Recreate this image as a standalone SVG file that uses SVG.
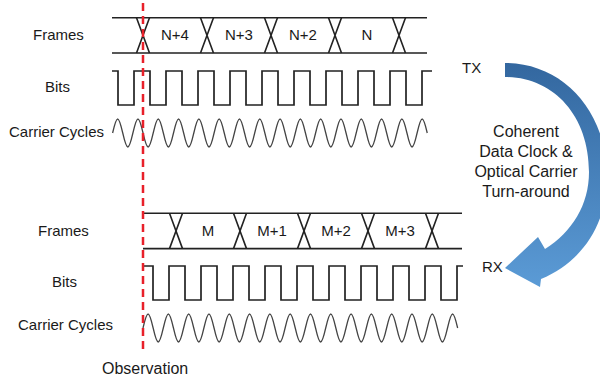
<svg xmlns="http://www.w3.org/2000/svg" xmlns:xlink="http://www.w3.org/1999/xlink" width="600" height="383" viewBox="0 0 600 383">
  <style>
    .lbl { font-family: "Liberation Sans", Arial, sans-serif; font-size: 15px; fill: #1a1a1a; }
    .big { font-size: 16px; }
    .mid { text-anchor: middle; }
    .rail { stroke: #222; stroke-width: 1.6; fill: none; }
    .bits { stroke: #222; stroke-width: 1.7; fill: none; stroke-linejoin: miter; }
    .wave { stroke: #444; stroke-width: 1.3; fill: none; }
    .obs { stroke: #e8202a; stroke-width: 2.5; stroke-dasharray: 8 5; fill: none; }
  </style>
  <defs>
    <path id="cross" class="rail" d="M-6.5,0 L6.5,35.3 M6.5,0 L-6.5,35.3"/>
    <path id="carrier" class="wave" d="M0,0 c4.31,-18.67 5.84,-18.67 10.15,0 s5.84,18.67 10.15,0 s5.84,-18.67 10.15,0 s5.84,18.67 10.15,0 s5.84,-18.67 10.15,0 s5.84,18.67 10.15,0 s5.84,-18.67 10.15,0 s5.84,18.67 10.15,0 s5.84,-18.67 10.15,0 s5.84,18.67 10.15,0 s5.84,-18.67 10.15,0 s5.84,18.67 10.15,0 s5.84,-18.67 10.15,0 s5.84,18.67 10.15,0 s5.84,-18.67 10.15,0 s5.84,18.67 10.15,0 s5.84,-18.67 10.15,0 s5.84,18.67 10.15,0 s5.84,-18.67 10.15,0 s5.84,18.67 10.15,0 s5.84,-18.67 10.15,0 s5.84,18.67 10.15,0 s5.84,-18.67 10.15,0 s5.84,18.67 10.15,0 s5.84,-18.67 10.15,0 s5.84,18.67 10.15,0 s5.84,-18.67 10.15,0 s5.84,18.67 10.15,0 s5.84,-18.67 10.15,0 s5.84,18.67 10.15,0 s5.84,-18.67 10.15,0"/>
    <linearGradient id="arrowGrad" gradientUnits="userSpaceOnUse" x1="0" y1="63" x2="0" y2="287">
      <stop offset="0" stop-color="#33679f"/>
      <stop offset="1" stop-color="#5b9bd6"/>
    </linearGradient>
  </defs>

  <!-- TX side -->
  <g id="tx-labels">
    <text class="lbl" x="33" y="40">Frames</text>
    <text class="lbl" x="45" y="92">Bits</text>
    <text class="lbl" x="9" y="137">Carrier Cycles</text>
  </g>
  <g id="tx-frames">
    <path class="rail" d="M112,17.7 H427 M112,53 H427"/>
    <use xlink:href="#cross" x="143" y="17.7"/>
    <use xlink:href="#cross" x="207" y="17.7"/>
    <use xlink:href="#cross" x="271" y="17.7"/>
    <use xlink:href="#cross" x="335" y="17.7"/>
    <use xlink:href="#cross" x="399" y="17.7"/>
    <text class="lbl mid" x="175" y="40">N+4</text>
    <text class="lbl mid" x="239" y="40">N+3</text>
    <text class="lbl mid" x="303" y="40">N+2</text>
    <text class="lbl mid" x="367" y="40">N</text>
  </g>
  <g id="tx-bits">
    <path class="bits" d="M112,71 H118 V105 H134 V71 H150 V105 H166 V71 H182 V105 H198 V71 H214 V105 H230 V71 H246 V105 H262 V71 H278 V105 H294 V71 H310 V105 H326 V71 H342 V105 H358 V71 H374 V105 H390 V71 H406 V105 H422 V71 H432"/>
  </g>
  <g id="tx-carrier">
    <use xlink:href="#carrier" x="112.6" y="133"/>
  </g>

  <!-- RX side -->
  <g id="rx-labels">
    <text class="lbl" x="38" y="236">Frames</text>
    <text class="lbl" x="52" y="287">Bits</text>
    <text class="lbl" x="18" y="330">Carrier Cycles</text>
  </g>
  <g id="rx-frames">
    <path class="rail" d="M143,213.3 H462 M143,248.6 H462"/>
    <use xlink:href="#cross" x="176" y="213.3"/>
    <use xlink:href="#cross" x="240" y="213.3"/>
    <use xlink:href="#cross" x="304" y="213.3"/>
    <use xlink:href="#cross" x="368" y="213.3"/>
    <use xlink:href="#cross" x="432" y="213.3"/>
    <text class="lbl mid" x="208" y="236">M</text>
    <text class="lbl mid" x="272" y="236">M+1</text>
    <text class="lbl mid" x="336" y="236">M+2</text>
    <text class="lbl mid" x="400" y="236">M+3</text>
  </g>
  <g id="rx-bits">
    <path class="bits" d="M143,266 H153 V300 H169 V266 H185 V300 H201 V266 H217 V300 H233 V266 H249 V300 H265 V266 H281 V300 H297 V266 H313 V300 H329 V266 H345 V300 H361 V266 H377 V300 H393 V266 H409 V300 H425 V266 H441 V300 H457 V266 H463"/>
  </g>
  <g id="rx-carrier">
    <use xlink:href="#carrier" x="143" y="328"/>
  </g>

  <!-- Observation marker -->
  <g id="observation">
    <path class="obs" d="M143,3 V352"/>
    <text class="lbl big" x="102" y="374">Observation</text>
  </g>

  <!-- Turn-around arrow -->
  <g id="turnaround">
    <path fill="url(#arrowGrad)" d="M505,63 C562,63 607,110 607,177 C607,225 582,262 541,279 L540,287 L505,268 L538,237 L545,249 C572,232 589,205 589,172 C589,115 553,77 505,77 Z"/>
    <text class="lbl" x="462" y="73">TX</text>
    <text class="lbl" x="482" y="272">RX</text>
    <text class="lbl big mid" x="526" y="137">Coherent</text>
    <text class="lbl big mid" x="526" y="157">Data Clock &amp;</text>
    <text class="lbl big mid" x="526" y="177">Optical Carrier</text>
    <text class="lbl big mid" x="526" y="197">Turn-around</text>
  </g>
</svg>
